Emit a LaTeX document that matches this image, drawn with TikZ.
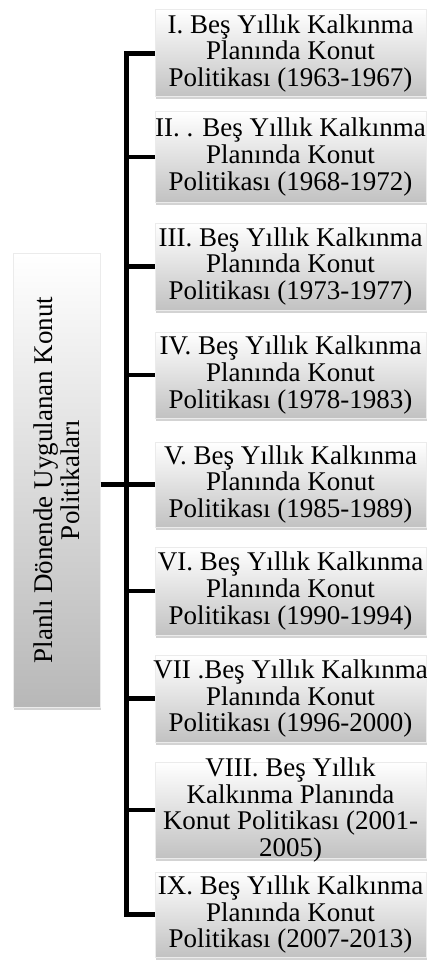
\documentclass[tikz,border=0pt]{standalone}
\usepackage{fontspec}
\setmainfont{Liberation Serif}
\usetikzlibrary{shadows}

\tikzset{
  planbox/.style={rectangle, draw=black!8, line width=1pt, top color=white, bottom color=black!24,
    minimum width=271pt, minimum height=87pt, inner sep=0pt,
    drop shadow={shadow xshift=1pt, shadow yshift=-2.5pt, opacity=0.35}},
  mainbox/.style={rectangle, draw=black!8, line width=1pt, top color=white, bottom color=black!28,
    minimum width=87pt, minimum height=454pt, inner sep=0pt,
    drop shadow={shadow xshift=1pt, shadow yshift=-2.5pt, opacity=0.35}},
  plantext/.style={align=center, inner sep=0pt, font=\fontsize{27}{26.8}\selectfont},
  conn/.style={line width=4.5pt, line join=miter}
}

\begin{document}
\begin{tikzpicture}[x=1pt, y=-1pt]
    \useasboundingbox (0,0) rectangle (427,960);

    \node[mainbox] (plan) at (56.5,480) {};
    \node[plantext, rotate=90] (plantitle) at (plan.center) {Planlı Dönende Uygulanan Konut\\Politikaları};

    \foreach \i/\y/\h/\txt in {
      1/53.5/87/{I. Beş Yıllık Kalkınma\\Planında Konut\\Politikası (1963-1967)},
      2/157/90/{II. . Beş Yıllık Kalkınma\\Planında Konut\\Politikası (1968-1972)},
      3/266.5/87/{III. Beş Yıllık Kalkınma\\Planında Konut\\Politikası (1973-1977)},
      4/375/86/{IV. Beş Yıllık Kalkınma\\Planında Konut\\Politikası (1978-1983)},
      5/484.5/85/{V. Beş Yıllık Kalkınma\\Planında Konut\\Politikası (1985-1989)},
      6/591/88/{VI. Beş Yıllık Kalkınma\\Planında Konut\\Politikası (1990-1994)},
      7/698.5/87/{VII .Beş Yıllık Kalkınma\\Planında Konut\\Politikası (1996-2000)},
      8/810/96/{VIII. Beş Yıllık\\Kalkınma Planında\\Konut Politikası (2001-\\2005)},
      9/914.5/85/{IX. Beş Yıllık Kalkınma\\Planında Konut\\Politikası (2007-2013)}}
    {
      \node[planbox, minimum height=\h pt] (b\i) at (290.5,\y) {};
      \node[plantext] (t\i) at (b\i.center) {\txt};
    }

    % trunk with the first and last branch
    \draw[conn] (b1.west) -- ++(-28,0) |- (b9.west);
    \foreach \i in {2,...,8}
      \draw[conn] (b\i.west) -- ++(-28,0);
    \draw[conn] (plan.east |- b5.west) -- (b5.west);
\end{tikzpicture}
\end{document}
